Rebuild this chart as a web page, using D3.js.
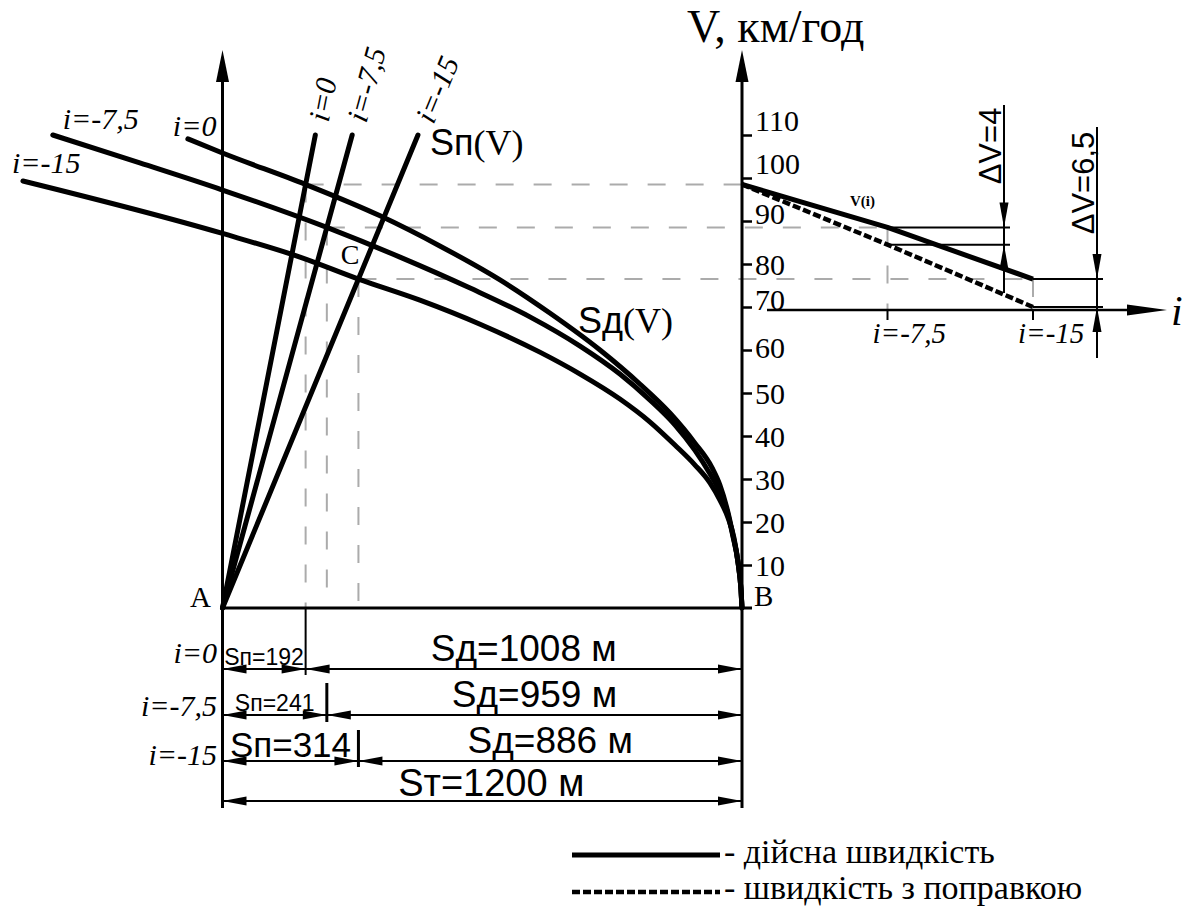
<!DOCTYPE html>
<html>
<head>
<meta charset="utf-8">
<script src="https://cdn.jsdelivr.net/npm/d3@7"></script>
<style>
  html, body { margin: 0; padding: 0; background: #fff; }
  svg { display: block; }
</style>
</head>
<body>
<svg id="chart" width="1189" height="909"></svg>
<script>
// ---------- data ----------
// track grades, ‰
const grades = [0, -7.5, -15];
const gradeLabels = ["i=0", "i=-7,5", "i=-15"];
// actual speed at the start of braking for each grade, km/h
const speedActual = [98.5, 88.5, 76.5];
// speed correction for each grade, km/h
const speedDrop = [0, 4, 6.5];
// preparatory distance Sп and effective braking distance Sд, m
const pathDist = [192, 241, 314];
const brakeDist = [1008, 959, 886];
const totalDist = 1200;
// speed axis ticks, km/h
const speedTicks = [10, 20, 30, 40, 50, 60, 70, 80, 90, 100, 110];

// braking curves Sд(V): [distance to point B, m ; speed, km/h]
const brakeCurveI0 = [
  [1280, 109.1], [1200, 105.8], [1008, 98.5], [836, 91.2], [698, 84.2],
  [559, 76.3], [444, 68.6], [328, 60], [236, 52.1], [166, 45.3],
  [109, 38.4], [69, 32.6], [51, 28.6], [35, 23.3], [21, 17],
  [9, 10.5], [2.3, 4.2], [0, 0]
];
const brakeCurveI75 = [
  [1592, 110], [1391, 103.5], [1200, 97.2], [959, 88.5], [790, 81.6],
  [628, 74.4], [490, 67.7], [374, 60.9], [282, 54.4], [213, 48.4],
  [155, 42.6], [109, 36.7], [74, 31.2], [51, 27], [35, 22.8],
  [21, 16.7], [9, 10.5], [2.3, 4.2], [0, 0]
];
const brakeCurveI15 = [
  [1661, 99.3], [1200, 87.1], [1021, 81.6], [886, 76.5], [744, 71.6],
  [605, 66], [467, 59.5], [374, 54.4], [282, 48.6], [213, 43.3],
  [155, 37.9], [109, 33.3], [74, 29.1], [51, 25.1], [32, 20.9],
  [18.5, 16.3], [9, 10.5], [2.3, 4.2], [0, 0]
];
const brakeCurves = [brakeCurveI0, brakeCurveI75, brakeCurveI15];

// ---------- layout ----------
const SERIF = "'Liberation Serif','Times New Roman',serif";
const SANS = "'Liberation Sans',Arial,sans-serif";
const GUIDE = "#ababab";

const svg = d3.select("#chart");
const sx = d3.scaleLinear().domain([0, totalDist]).range([222.5, 742]); // distance from A
const sy = d3.scaleLinear().domain([0, 110]).range([608, 135]);          // speed
const si = d3.scaleLinear().domain([0, -15]).range([742, 1033]);         // grade (inset)

const xA = sx(0), xB = sx(totalDist), yBase = sy(0);
const axisTop = 50;
const iAxisY = 310;
const rowY = [669, 715, 761];
const totalY = 801;

function arrow(g, tx, ty, ux, uy, len, half) {
  const bx = tx - ux * len, by = ty - uy * len;
  const px = -uy, py = ux;
  g.append("path")
    .attr("d", `M${tx},${ty}L${bx + px * half},${by + py * half}L${bx - px * half},${by - py * half}Z`)
    .attr("fill", "#000");
}
function line(g, x1, y1, x2, y2, w, extra) {
  const l = g.append("line")
    .attr("x1", x1).attr("y1", y1).attr("x2", x2).attr("y2", y2)
    .attr("stroke", "#000").attr("stroke-width", w);
  if (extra) extra(l);
  return l;
}
const fmt = v => String(v).replace(".", ",");

// ---------- construction guides ----------
const guides = svg.append("g")
  .attr("stroke", GUIDE).attr("stroke-width", 2).attr("stroke-dasharray", "18,20").attr("fill", "none");
grades.forEach((g, k) => {
  const xp = sx(pathDist[k]), yv = sy(speedActual[k]);
  guides.append("line").attr("x1", xp).attr("y1", yv).attr("x2", xp).attr("y2", yBase);
  guides.append("line").attr("x1", xp).attr("y1", yv).attr("x2", si(g)).attr("y2", yv);
  if (k > 0) {
    guides.append("line").attr("x1", si(g)).attr("y1", yv).attr("x2", si(g)).attr("y2", iAxisY);
  }
});

// ---------- axes ----------
const axes = svg.append("g");
line(axes, xA, 808, xA, axisTop + 30, 3);
arrow(axes, xA, axisTop, 0, -1, 32, 6.5);
line(axes, xB, 808, xB, axisTop + 30, 3);
arrow(axes, xB, axisTop, 0, -1, 32, 6.5);
line(axes, xA, yBase, xB + 10, yBase, 3);

// speed scale on the right axis
const labelLift = { 110: -15, 100: -15, 90: -8, 70: -8, 60: -3 };
const yAxis = svg.append("g")
  .attr("transform", `translate(${xB},0)`)
  .call(d3.axisRight(sy).tickValues(speedTicks).tickSize(10).tickPadding(3));
yAxis.select(".domain").remove();
yAxis.selectAll(".tick line").attr("stroke", "#000").attr("stroke-width", 2.5);
yAxis.selectAll(".tick text")
  .attr("fill", "#000")
  .style("font-family", SERIF).style("font-size", "30px")
  .attr("dy", d => (labelLift[d] || 0) + 10);

svg.append("text").attr("x", 687).attr("y", 42)
  .style("font-family", SERIF).style("font-size", "46px").text("V, км/год");

svg.append("text").attr("x", 190).attr("y", 607)
  .style("font-family", SERIF).style("font-size", "29px").text("A");
svg.append("text").attr("x", 754).attr("y", 606)
  .style("font-family", SERIF).style("font-size", "29px").text("B");

// ---------- Sп(V): straight lines from A ----------
const topV = 110;
const pathLines = svg.append("g");
grades.forEach((g, k) => {
  const sEnd = pathDist[k] * topV / speedActual[k];
  line(pathLines, xA, yBase, sx(sEnd), sy(topV), 5, l => l.attr("stroke-linecap", "round"));
  // grade label continuing the line upward
  const vLab = (yBase - 121) / (yBase - sy(1));
  const sLab = pathDist[k] * vLab / speedActual[k];
  const ang = Math.atan2(sy(topV) - yBase, sx(sEnd) - xA) * 180 / Math.PI;
  pathLines.append("text")
    .attr("transform", `translate(${sx(sLab)},${sy(vLab)}) rotate(${ang})`)
    .attr("dy", "0.35em")
    .style("font-family", SERIF).style("font-style", "italic").style("font-size", "30px")
    .text(gradeLabels[k]);
});

const spLab = svg.append("text").attr("x", 430).attr("y", 155).style("font-size", "36px");
spLab.append("tspan").style("font-family", SANS).text("Sп");
spLab.append("tspan").style("font-family", SERIF).text("(V)");

// ---------- Sд(V): braking curves ending at B ----------
const curveGen = d3.line()
  .x(d => sx(totalDist - d[0]))
  .y(d => sy(d[1]))
  .curve(d3.curveMonotoneX);
const curveLabelOffset = [[-15, -3], [10, -6], [-11, -8]];
brakeCurves.forEach((c, k) => {
  svg.append("path").attr("d", curveGen(c))
    .attr("fill", "none").attr("stroke", "#000").attr("stroke-width", 5)
    .attr("stroke-linecap", "round").attr("stroke-linejoin", "round");
  const x0 = sx(totalDist - c[0][0]), y0 = sy(c[0][1]);
  svg.append("text")
    .attr("x", x0 + curveLabelOffset[k][0]).attr("y", y0 + curveLabelOffset[k][1])
    .style("font-family", SERIF).style("font-style", "italic").style("font-size", "30px")
    .text(gradeLabels[k]);
});

const sdLab = svg.append("text").attr("x", 578).attr("y", 333).style("font-size", "36px");
sdLab.append("tspan").style("font-family", SANS).text("Sд");
sdLab.append("tspan").style("font-family", SERIF).text("(V)");

svg.append("text").attr("x", sx(pathDist[1]) + 14).attr("y", sy(speedActual[1]) + 37)
  .style("font-family", SERIF).style("font-size", "28px").text("C");

// ---------- inset: speed versus grade ----------
const inset = svg.append("g");
line(inset, 767, iAxisY, 1130, iAxisY, 2.5);
arrow(inset, 1167, iAxisY, 1, 0, 40, 5.5);
svg.append("text").attr("x", 1171).attr("y", 325)
  .style("font-family", SERIF).style("font-style", "italic").style("font-size", "42px").text("i");

grades.slice(1).forEach((g, j) => {
  line(inset, si(g), iAxisY, si(g), iAxisY + 10, 2);
  inset.append("text").attr("x", si(g) - 15).attr("y", 343)
    .style("font-family", SERIF).style("font-style", "italic").style("font-size", "29px")
    .text(gradeLabels[j + 1]);
});

const viLine = d3.line().x((d, k) => si(grades[k])).y(d => sy(d));
inset.append("path").attr("d", viLine(speedActual))
  .attr("fill", "none").attr("stroke", "#000").attr("stroke-width", 5).attr("stroke-linejoin", "round");
inset.append("path").attr("d", viLine(speedActual.map((v, k) => v - speedDrop[k])))
  .attr("fill", "none").attr("stroke", "#000").attr("stroke-width", 4.5)
  .attr("stroke-dasharray", "8,3");

inset.append("text").attr("x", 850).attr("y", 206)
  .style("font-family", SERIF).style("font-weight", "bold").style("font-size", "15px").text("V(i)");

// ΔV dimensions
const dimX = [null, 1004, 1097];
const dimSpan = [null, [105, 293], [127, 358]];
const dimTextY = [null, 146, 183];
grades.forEach((g, k) => {
  if (k === 0) return;
  const xd = dimX[k];
  const yHi = sy(speedActual[k]), yLo = sy(speedActual[k] - speedDrop[k]);
  line(inset, si(g), yHi, xd + 6, yHi, 2);
  line(inset, si(g), yLo, xd + 6, yLo, 2);
  line(inset, xd, dimSpan[k][0], xd, dimSpan[k][1], 2);
  arrow(inset, xd, yHi, 0, 1, 25, 4.5);
  arrow(inset, xd, yLo, 0, -1, 25, 4.5);
  inset.append("text")
    .attr("transform", `translate(${xd - 3},${dimTextY[k]}) rotate(-90)`)
    .attr("text-anchor", "middle")
    .style("font-family", SANS).style("font-size", "31px")
    .text("ΔV=" + fmt(speedDrop[k]));
});

// ---------- distance dimensions ----------
const dims = svg.append("g");
const tickSpan = [[yBase, 675], [683, 722], [730, 767]];
const tickW = [2, 3, 3];
const spFont = [23, 23, 35];
const rowLabelDy = [-6, 1, 4];
grades.forEach((g, k) => {
  const xp = sx(pathDist[k]), y = rowY[k];
  line(dims, xp, tickSpan[k][0], xp, tickSpan[k][1], tickW[k]);
  line(dims, xA, y, xB, y, 2);
  arrow(dims, xA, y, -1, 0, 24, 4.5);
  arrow(dims, xp, y, 1, 0, 24, 4.5);
  arrow(dims, xp, y, -1, 0, 24, 4.5);
  arrow(dims, xB, y, 1, 0, 24, 4.5);
  dims.append("text").attr("x", (xA + xp) / 2).attr("y", y - 4)
    .attr("text-anchor", "middle")
    .style("font-family", SANS).style("font-size", spFont[k] + "px")
    .text("Sп=" + pathDist[k]);
  dims.append("text").attr("x", (xp + xB) / 2).attr("y", y - 8)
    .attr("text-anchor", "middle")
    .style("font-family", SANS).style("font-size", "37px")
    .text("Sд=" + brakeDist[k] + " м");
  dims.append("text").attr("x", 217).attr("y", y + rowLabelDy[k])
    .attr("text-anchor", "end")
    .style("font-family", SERIF).style("font-style", "italic").style("font-size", "30px")
    .text(gradeLabels[k]);
});
line(dims, xA, totalY, xB, totalY, 2);
arrow(dims, xA, totalY, -1, 0, 24, 4.5);
arrow(dims, xB, totalY, 1, 0, 24, 4.5);
dims.append("text").attr("x", (xA + xB) / 2 + 9).attr("y", totalY - 5)
  .attr("text-anchor", "middle")
  .style("font-family", SANS).style("font-size", "38px")
  .text("Sт=" + totalDist + " м");

// ---------- legend ----------
const legend = svg.append("g");
line(legend, 572, 855, 720, 855, 5);
line(legend, 572, 892, 720, 892, 4.5, l => l.attr("stroke-dasharray", "8,3"));
legend.append("text").attr("x", 724).attr("y", 863)
  .style("font-family", SERIF).style("font-size", "34px").text("- дійсна швидкість");
legend.append("text").attr("x", 724).attr("y", 899)
  .style("font-family", SERIF).style("font-size", "34px").text("- швидкість з поправкою");
</script>
</body>
</html>
